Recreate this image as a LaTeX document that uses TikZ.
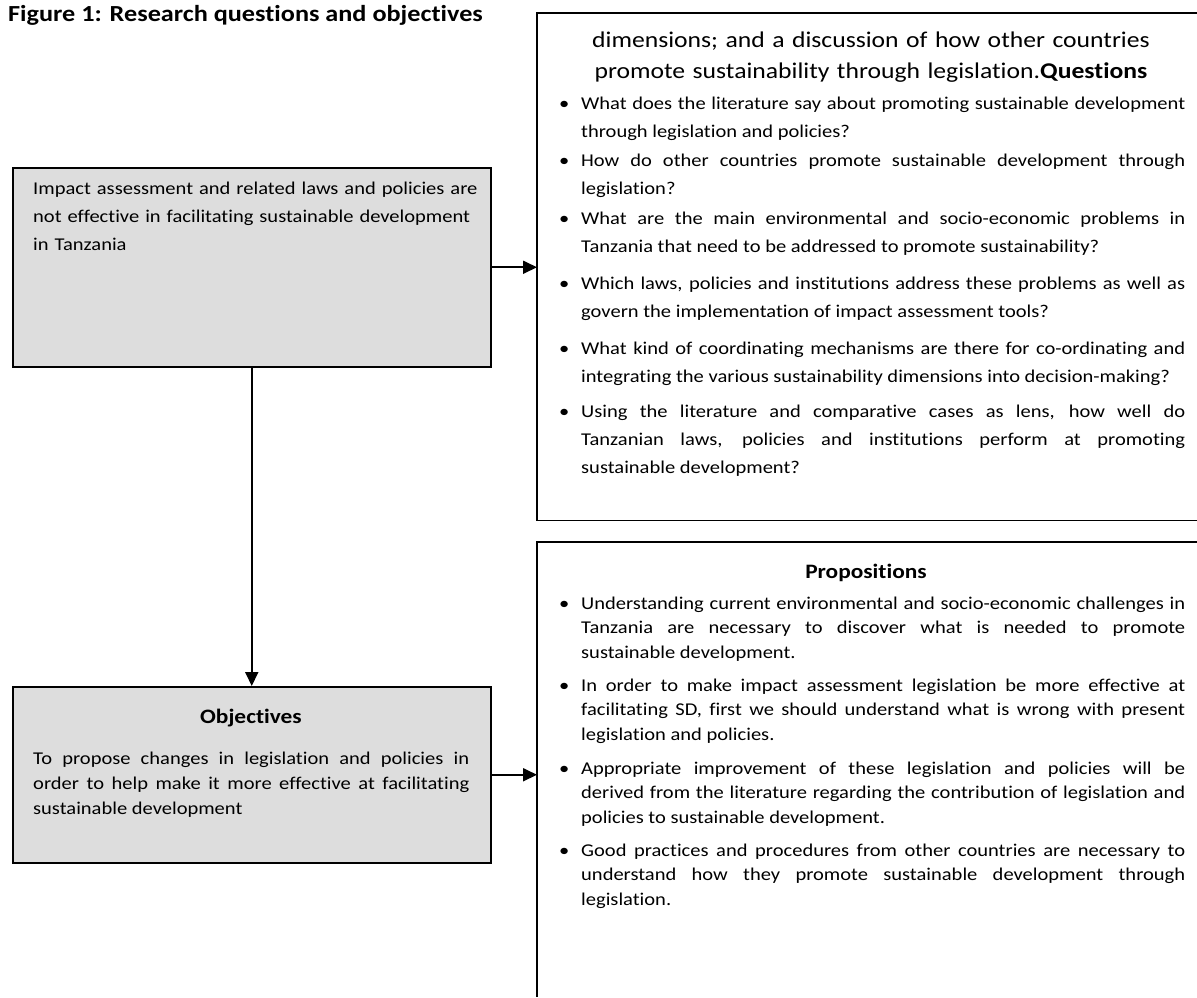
\documentclass[tikz,border=0pt]{standalone}
\usepackage{fontspec}
\setmainfont{Carlito}[FakeStretch=1.14,Ligatures={NoCommon,NoContextual},Contextuals=NoAlternate]
\usetikzlibrary{arrows.meta}
\definecolor{boxgray}{RGB}{221,221,221}
\newcommand{\bodyfont}{\fontsize{18}{28}\selectfont\tolerance=10000\hyphenpenalty=10000}
\newcommand{\propfont}{\fontsize{18}{24.5}\selectfont\tolerance=10000\hyphenpenalty=10000}
\newcommand{\objfont}{\fontsize{18}{25}\selectfont\tolerance=10000\hyphenpenalty=10000}
\newcommand{\bul}{\llap{\makebox[22pt][l]{\textbullet}}}
\begin{document}
\begin{tikzpicture}[x=1pt,y=-1pt,
  graybox/.style={draw=black, line width=1.5pt, fill=boxgray, rectangle, inner sep=0pt, anchor=north west},
  openframe/.style={rectangle, draw=none, inner sep=0pt, anchor=north west},
  frameline/.style={line width=1.4pt},
  conn/.style={line width=1.8pt, -{Triangle[length=14pt,width=13pt]}},
  qitem/.style={inner sep=0pt, anchor=base west, font=\bodyfont, align=justify, text width=604pt},
  pitem/.style={inner sep=0pt, anchor=base west, font=\propfont, align=justify, text width=604pt},
  boxhead/.style={inner sep=0pt, anchor=base, font=\bfseries\fontsize{20.5}{24}\selectfont},
  plain/.style={inner sep=0pt, anchor=base west}]
\fill[white] (0,0) rectangle (1197,997);
\useasboundingbox (0,0) rectangle (1197,997);

% title
\node[plain, font=\bfseries\fontsize{23}{28}\selectfont] (title) at (8,21) {Figure 1: Research questions and objectives};

% left boxes
\node[graybox, minimum width=478pt, minimum height=199pt] (problem) at (12,167) {};
\node[plain, font=\bodyfont, align=left, text width=445pt] (problemtext) at (33,194)
  {Impact assessment and related laws and policies are\\not effective in facilitating sustainable development\\in Tanzania};

\node[graybox, minimum width=478pt, minimum height=176pt] (objectives) at (12,686) {};
\node[boxhead] (objhead) at (251,723) {Objectives};
\node[plain, font=\objfont, align=justify, text width=436pt] (objtext) at (33,764)
  {To propose changes in legislation and policies in\linebreak order to help make it more effective at facilitating\linebreak sustainable development};

% right frames (open on the right / bottom)
\node[openframe, minimum width=660pt, minimum height=507pt] (questions) at (537,13) {};
\draw[frameline] (questions.north east) -- (questions.north west) -- (questions.south west) -- (questions.south east);
\node[openframe, minimum width=660pt, minimum height=455pt] (propositions) at (537,542) {};
\draw[frameline] (propositions.north east) -- (propositions.north west) -- (propositions.south west);

% questions text
\node[inner sep=0pt, anchor=base, align=center, text width=620pt, font=\fontsize{22.5}{31}\selectfont] (qhead) at (871,47)
  {dimensions; and a discussion of how other countries\\promote sustainability through legislation.\textbf{Questions}};
\node[qitem] (q1) at (581,109) {\bul What does the literature say about promoting sustainable development\linebreak through legislation and policies?};
\node[qitem] (q2) at (581,166) {\bul How do other countries promote sustainable development through\linebreak legislation?};
\node[qitem] (q3) at (581,224) {\bul What are the main environmental and socio-economic problems in\linebreak Tanzania that need to be addressed to promote sustainability?};
\node[qitem] (q4) at (581,289) {\bul Which laws, policies and institutions address these problems as well as\linebreak govern the implementation of impact assessment tools?};
\node[qitem] (q5) at (581,354) {\bul What kind of coordinating mechanisms are there for co-ordinating and\linebreak integrating the various sustainability dimensions into decision-making?};
\node[qitem] (q6) at (581,417) {\bul Using the literature and comparative cases as lens, how well do\linebreak Tanzanian laws, policies and institutions perform at promoting\linebreak sustainable development?};

% propositions text
\node[boxhead] (phead) at (866,578) {Propositions};
\node[pitem] (p1) at (581,609) {\bul Understanding current environmental and socio-economic challenges in\linebreak Tanzania are necessary to discover what is needed to promote\linebreak sustainable development.};
\node[pitem] (p2) at (581,691) {\bul In order to make impact assessment legislation be more effective at\linebreak facilitating SD, first we should understand what is wrong with present\linebreak legislation and policies.};
\node[pitem] (p3) at (581,774) {\bul Appropriate improvement of these legislation and policies will be\linebreak derived from the literature regarding the contribution of legislation and\linebreak policies to sustainable development.};
\node[pitem] (p4) at (581,856) {\bul Good practices and procedures from other countries are necessary to\linebreak understand how they promote sustainable development through\linebreak legislation.};

% connectors
\draw[conn] (problem.east) -- (problem.east -| questions.west);
\draw[conn] (problem.south) -- (objectives.north);
\draw[conn] (objectives.east) -- (objectives.east -| propositions.west);
\end{tikzpicture}
\end{document}
